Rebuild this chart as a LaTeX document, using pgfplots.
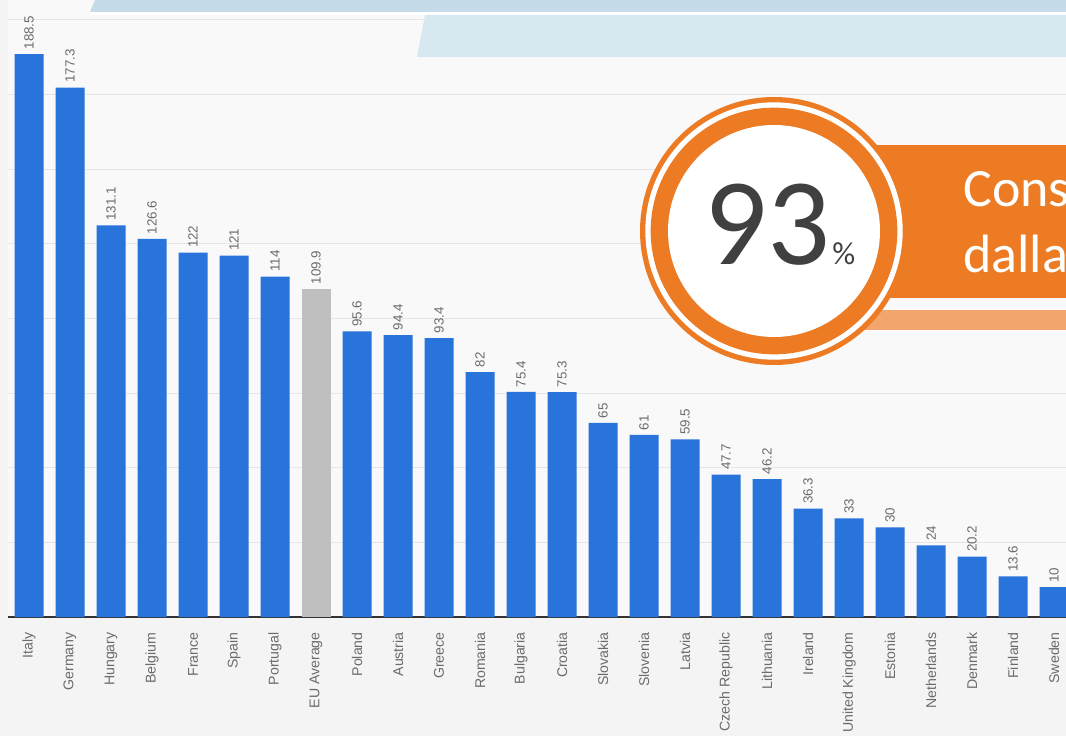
\documentclass[border=0pt]{standalone}
\usepackage{pgfplots}
\pgfplotsset{compat=1.18}
\usepackage{fontspec}
\setmainfont{Liberation Sans}
\newfontfamily\calibri{Carlito}
\definecolor{pagebg}{HTML}{F4F4F4}
\definecolor{plotbg}{HTML}{F9F9F9}
\definecolor{gridcol}{HTML}{E6E6E6}
\definecolor{barblue}{HTML}{2874DB}
\definecolor{eugray}{HTML}{BFBFBF}
\definecolor{labgray}{HTML}{6B6B6B}
\definecolor{band1}{HTML}{C5DBE9}
\definecolor{band2}{HTML}{D7E8F1}
\definecolor{orng}{HTML}{EC7B24}
\definecolor{lorng}{HTML}{F2A66E}
\definecolor{darktxt}{HTML}{404040}
\begin{document}
\begin{tikzpicture}
\path[use as bounding box] (0,0) rectangle (799.5pt,552pt);
\clip (0,0) rectangle (799.5pt,552pt);
\fill[pagebg] (0,0) rectangle (799.5pt,552pt);
\begin{axis}[
  at={(6.375pt,89.25pt)}, anchor=south west,
  scale only axis, width=793.125pt, height=462.75pt,
  xmin=-0.5, xmax=25.29, ymin=0, ymax=206.6,
  ybar, bar width=21.75pt, bar shift=0pt,
  axis background/.style={fill=plotbg},
  axis line style={draw=none},
  ytick={25,50,...,200}, yticklabels={},
  ymajorgrids, grid style={gridcol, line width=0.75pt},
  extra y ticks={0}, extra y tick labels={},
  extra y tick style={grid style={black!80, line width=1pt}},
  major tick length=0pt,
  xtick={0,...,25},
  xticklabels={Italy,Germany,Hungary,Belgium,France,Spain,Portugal,EU Average,Poland,Austria,Greece,Romania,Bulgaria,Croatia,Slovakia,Slovenia,Latvia,Czech Republic,Lithuania,Ireland,United Kingdom,Estonia,Netherlands,Denmark,Finland,Sweden},
  xticklabel shift=8pt,
  xticklabel style={rotate=90, anchor=east, font=\fontsize{10.6}{12}\selectfont, text=labgray},
  nodes near coords,
  every node near coord/.append style={rotate=90, anchor=west, font=\fontsize{10}{12}\selectfont, text=labgray},
  /pgf/number format/.cd, fixed, precision=1, assume math mode=true,
]
\addplot[fill=barblue, draw=none] coordinates {
(0,188.5) (1,177.3) (2,131.1) (3,126.6) (4,122) (5,121) (6,114)
(8,95.6) (9,94.4) (10,93.4) (11,82) (12,75.4) (13,75.3) (14,65) (15,61) (16,59.5)
(17,47.7) (18,46.2) (19,36.3) (20,33) (21,30) (22,24) (23,20.2) (24,13.6) (25,10)};
\addplot[fill=eugray, draw=none] coordinates {(7,109.9)};
\end{axis}
\begin{scope}[x=0.75pt,y=-0.75pt,yshift=552pt]
  \fill[band1] (95,0) -- (1070,0) -- (1070,12) -- (90,12) -- cycle;
  \fill[white] (90,12) -- (1070,12) -- (1070,15) -- (90,15) -- cycle;
  \fill[band2] (425,15) -- (1070,15) -- (1070,57) -- (417,57) -- cycle;
  \fill[lorng] (855,310) rectangle (1070,330);
  \fill[orng] (850,145) rectangle (1070,298);
  \fill[orng] (774,231) circle (100.5pt);
  \fill[white] (774,231) circle (96.5pt);
  \fill[orng] (774,231) circle (92.5pt);
  \fill[white] (774,231) circle (79.5pt);
  \node[anchor=base west, inner sep=0pt, text=darktxt, font=\calibri\fontsize{93}{93}\selectfont] at (704,265) {93};
  \node[anchor=base west, inner sep=0pt, text=darktxt, font=\calibri\fontsize{24}{24}\selectfont] at (832,265) {\%};
  \node[anchor=base west, inner sep=0pt, text=white, font=\calibri\fontsize{40.5}{40.5}\selectfont] at (963,207) {Cons};
  \node[anchor=base west, inner sep=0pt, text=white, font=\calibri\fontsize{40.5}{40.5}\selectfont] at (963,273) {dalla};
\end{scope}
\end{tikzpicture}
\end{document}
